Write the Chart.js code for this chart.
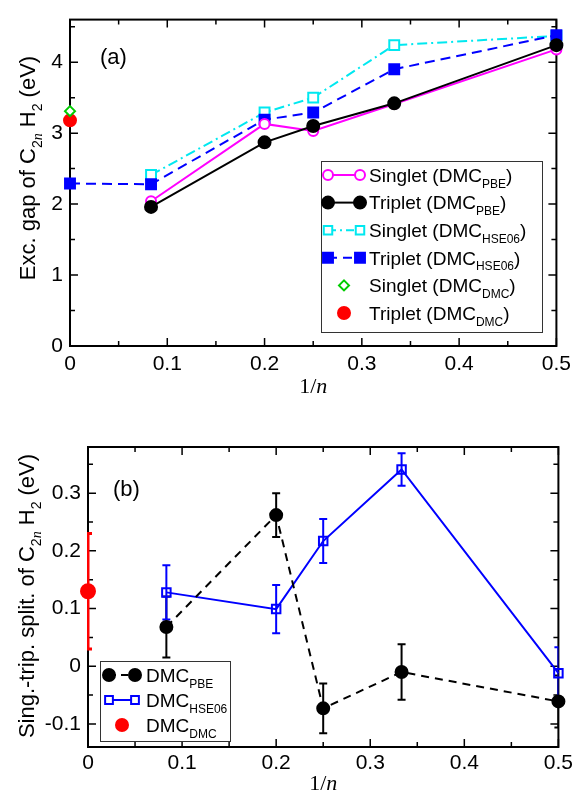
<!DOCTYPE html>
<html>
<head>
<meta charset="utf-8">
<script src="https://cdn.jsdelivr.net/npm/chart.js@4.4.0/dist/chart.umd.min.js"></script>
<style>
  body { margin: 0; background: #fff; }
  canvas { display: block; }
</style>
</head>
<body>
<canvas id="painelA" width="577" height="395"></canvas>
<canvas id="painelB" width="577" height="395"></canvas>
<script>
// ---- dados do painel (a): gap de excitação ----
const xPBE = [0.0833, 0.2, 0.25, 0.3333, 0.5];
const singletePBE = [2.04, 3.13, 3.03, 3.41, 4.18];
const tripletePBE = [1.96, 2.87, 3.10, 3.42, 4.24];
const singleteHSE = [2.41, 3.29, 3.50, 4.24, 4.37];
const xTripleteHSE = [0, 0.0833, 0.2, 0.25, 0.3333, 0.5];
const tripleteHSE = [2.29, 2.28, 3.19, 3.29, 3.90, 4.38];
const xDMC = [0];
const singleteDMC = [3.31];
const tripleteDMC = [3.18];

// ---- dados do painel (b): separação singlete-triplete ----
const xSep = [0.0833, 0.2, 0.25, 0.3333, 0.5];
const sepPBE = [0.068, 0.262, -0.073, -0.010, -0.061];
const erroPBE = [0.053, 0.038, 0.043, 0.048, 0.045];
const sepHSE = [0.128, 0.099, 0.217, 0.341, -0.012];
const erroHSE = [0.047, 0.042, 0.038, 0.028, 0.045];
const sepDMC = [0.13];
const erroDMC = [0.10];

const ticksX = ['0', '0.1', '0.2', '0.3', '0.4', '0.5'];

const FONTE = '"Liberation Sans", Arial, sans-serif';
const SERIFA = '"Liberation Serif", "Times New Roman", serif';

function pontos(xs, ys) {
  return xs.map((x, i) => ({ x: x, y: ys[i] }));
}

// texto com subscritos: partes = [[texto, tipo]], tipo = 'sub' | 'subi' | undefined
function textoRico(ctx, partes, x, y, tam, alinhar) {
  const sub = Math.round(tam * 0.65);
  const fontes = partes.map(p => {
    if (p[1] === 'subi') return 'italic ' + sub + 'px ' + SERIFA;
    if (p[1] === 'sub') return sub + 'px ' + FONTE;
    if (p[1] === 'serifi') return 'italic ' + tam + 'px ' + SERIFA;
    if (p[1] === 'serif') return tam + 'px ' + SERIFA;
    return tam + 'px ' + FONTE;
  });
  let total = 0;
  const larguras = partes.map((p, i) => {
    ctx.font = fontes[i];
    const w = ctx.measureText(p[0]).width;
    total += w;
    return w;
  });
  let cx = alinhar === 'center' ? x - total / 2 : x;
  const base = y + tam * 0.36;
  ctx.textAlign = 'left';
  ctx.textBaseline = 'alphabetic';
  partes.forEach((p, i) => {
    ctx.font = fontes[i];
    const dy = (p[1] === 'sub' || p[1] === 'subi') ? tam * 0.3 : 0;
    ctx.fillText(p[0], cx, base + dy);
    cx += larguras[i];
  });
}

function marcador(ctx, estilo, x, y, r, fundo, borda, lw) {
  ctx.save();
  ctx.beginPath();
  if (estilo === 'circle') {
    ctx.arc(x, y, r, 0, Math.PI * 2);
  } else if (estilo === 'rect') {
    const s = r * Math.SQRT1_2;
    ctx.rect(x - s, y - s, 2 * s, 2 * s);
  } else if (estilo === 'rectRot') {
    ctx.moveTo(x, y - r); ctx.lineTo(x + r, y); ctx.lineTo(x, y + r); ctx.lineTo(x - r, y);
    ctx.closePath();
  }
  ctx.fillStyle = fundo;
  ctx.fill();
  ctx.lineWidth = lw;
  ctx.strokeStyle = borda;
  ctx.setLineDash([]);
  ctx.stroke();
  ctx.restore();
}

// moldura, ticks para dentro, barras de erro, legenda e títulos
function pluginPainel(cfg) {
  return {
    id: 'painel',
    beforeDatasetsDraw(chart) {
      const { ctx, chartArea: a, scales: { x, y } } = chart;
      ctx.save();
      ctx.strokeStyle = '#000';
      ctx.lineWidth = 2;
      ctx.strokeRect(a.left, a.top, a.right - a.left, a.bottom - a.top);
      ctx.lineWidth = 1.5;
      const marcas = (escala, passo, maior, fn) => {
        const ini = Math.ceil(escala.min / passo - 1e-6);
        const fim = Math.floor(escala.max / passo + 1e-6);
        for (let i = ini; i <= fim; i++) {
          const v = i * passo;
          const ehMaior = Math.abs(v / maior - Math.round(v / maior)) < 1e-6;
          fn(escala.getPixelForValue(v), ehMaior ? 8 : 5);
        }
      };
      ctx.beginPath();
      marcas(x, cfg.xMenor, cfg.xMaior, (px, l) => {
        ctx.moveTo(px, a.bottom); ctx.lineTo(px, a.bottom - l);
        ctx.moveTo(px, a.top); ctx.lineTo(px, a.top + l);
      });
      marcas(y, cfg.yMenor, cfg.yMaior, (py, l) => {
        ctx.moveTo(a.left, py); ctx.lineTo(a.left + l, py);
        ctx.moveTo(a.right, py); ctx.lineTo(a.right - l, py);
      });
      ctx.stroke();

      // barras de erro, recortadas na área do gráfico na horizontal
      ctx.beginPath();
      ctx.rect(a.left - 1, 0, a.right - a.left + 1, chart.height);
      ctx.clip();
      chart.data.datasets.forEach(ds => {
        if (!ds.erros) return;
        ctx.strokeStyle = ds.corErro;
        ctx.lineWidth = ds.larguraErro || 2;
        ds.data.forEach((p, i) => {
          const px = x.getPixelForValue(p.x);
          const y1 = y.getPixelForValue(p.y + ds.erros[i]);
          const y2 = y.getPixelForValue(p.y - ds.erros[i]);
          ctx.beginPath();
          ctx.moveTo(px, y1); ctx.lineTo(px, y2);
          ctx.moveTo(px - 4, y1); ctx.lineTo(px + 4, y1);
          ctx.moveTo(px - 4, y2); ctx.lineTo(px + 4, y2);
          ctx.stroke();
        });
      });
      ctx.restore();
    },
    afterDraw(chart) {
      const { ctx, chartArea: a } = chart;
      ctx.save();
      ctx.fillStyle = '#000';
      // rótulo do painel
      ctx.font = '22px ' + FONTE;
      ctx.textAlign = 'left';
      ctx.textBaseline = 'middle';
      ctx.fillText(cfg.rotulo[0], cfg.rotulo[1], cfg.rotulo[2]);
      // título do eixo y
      ctx.save();
      ctx.translate(cfg.tituloY[1], cfg.tituloY[2]);
      ctx.rotate(-Math.PI / 2);
      textoRico(ctx, cfg.tituloY[0], 0, 0, 22, 'center');
      ctx.restore();
      // título do eixo x
      textoRico(ctx, [['1/', 'serif'], ['n', 'serifi']], (a.left + a.right) / 2, cfg.tituloXy, 22, 'center');
      // legenda
      const L = cfg.legenda;
      ctx.fillStyle = '#fff';
      ctx.fillRect(L.x, L.y, L.w, L.h);
      ctx.strokeStyle = '#333';
      ctx.lineWidth = 1;
      ctx.strokeRect(L.x + 0.5, L.y + 0.5, L.w, L.h);
      L.itens.forEach((it, i) => {
        const cy = L.y0 + i * L.passo;
        if (it.linha) {
          ctx.save();
          ctx.strokeStyle = it.cor;
          ctx.lineWidth = 2;
          ctx.setLineDash(it.tracos || []);
          ctx.beginPath();
          ctx.moveTo(L.m1, cy); ctx.lineTo(L.m2, cy);
          ctx.stroke();
          ctx.restore();
          marcador(ctx, it.estilo, L.m1, cy, it.r, it.fundo, it.cor, 2);
          marcador(ctx, it.estilo, L.m2, cy, it.r, it.fundo, it.cor, 2);
        } else {
          marcador(ctx, it.estilo, (L.m1 + L.m2) / 2, cy, it.r, it.fundo, it.cor, 2);
        }
        ctx.fillStyle = '#000';
        textoRico(ctx, it.texto, L.tx, cy, L.tam, 'left');
      });
      ctx.restore();
    }
  };
}

function escalas(cfg) {
  return {
    x: {
      type: 'linear', min: 0, max: 0.5,
      grid: { display: false, drawTicks: false }, border: { display: false },
      ticks: {
        stepSize: 0.1, includeBounds: false, autoSkip: false, maxRotation: 0,
        color: '#000', font: { size: 21, family: FONTE }, padding: cfg.padX,
        callback: (v) => ticksX[Math.round(v * 10)]
      },
      afterFit: (s) => { s.height = cfg.alturaX; }
    },
    y: {
      type: 'linear', min: cfg.yMin, max: cfg.yMax,
      grid: { display: false, drawTicks: false }, border: { display: false },
      ticks: {
        stepSize: cfg.yMaior, includeBounds: false, autoSkip: false,
        color: '#000', font: { size: 21, family: FONTE }, padding: 7,
        callback: (v) => String(Math.round(v * 10) / 10)
      },
      afterFit: (s) => { s.width = cfg.larguraY; }
    }
  };
}

function serie(dados, cor, estilo, r, fundo, extra) {
  return Object.assign({
    data: dados, showLine: true, borderColor: cor, borderWidth: 2,
    pointStyle: estilo, pointRadius: r, pointHoverRadius: r,
    pointBackgroundColor: fundo, pointBorderColor: cor, pointBorderWidth: 2,
    clip: false, tension: 0
  }, extra || {});
}

// ---- painel (a) ----
const cfgA = {
  xMaior: 0.1, xMenor: 0.05, yMaior: 1, yMenor: 0.5,
  yMin: 0, yMax: 4.6, padX: 6, alturaX: 49, larguraY: 70,
  rotulo: ['(a)', 100, 58],
  tituloY: [[['Exc. gap of C'], ['2', 'sub'], ['n', 'subi'], [' H'], ['2', 'sub'], [' (eV)']], 27, 168],
  tituloXy: 385,
  legenda: {
    x: 321, y: 161, w: 221, h: 171, y0: 175, passo: 27.6, m1: 328, m2: 360, tx: 369, tam: 19,
    itens: [
      { linha: true, cor: '#ff00ff', estilo: 'circle', r: 5, fundo: '#fff', texto: [['Singlet (DMC'], ['PBE', 'sub'], [')']] },
      { linha: true, cor: '#000', estilo: 'circle', r: 6, fundo: '#000', texto: [['Triplet (DMC'], ['PBE', 'sub'], [')']] },
      { linha: true, cor: '#00e8f0', estilo: 'rect', r: 6, fundo: '#fff', tracos: [8, 4, 2, 4], texto: [['Singlet (DMC'], ['HSE06', 'sub'], [')']] },
      { linha: true, cor: '#0000ff', estilo: 'rect', r: 7, fundo: '#0000ff', tracos: [9, 6], texto: [['Triplet (DMC'], ['HSE06', 'sub'], [')']] },
      { linha: false, cor: '#00cc00', estilo: 'rectRot', r: 5, fundo: '#fff', texto: [['Singlet (DMC'], ['DMC', 'sub'], [')']] },
      { linha: false, cor: '#ff0000', estilo: 'circle', r: 6, fundo: '#ff0000', texto: [['Triplet (DMC'], ['DMC', 'sub'], [')']] }
    ]
  }
};

new Chart(document.getElementById('painelA'), {
  type: 'scatter',
  data: {
    datasets: [
      serie(pontos(xDMC, singleteDMC), '#00cc00', 'rectRot', 5, '#fff', { showLine: false, order: 0 }),
      serie(pontos(xDMC, tripleteDMC), '#ff0000', 'circle', 6, '#ff0000', { showLine: false, order: 0 }),
      serie(pontos(xPBE, tripletePBE), '#000', 'circle', 6, '#000', { order: 1 }),
      serie(pontos(xPBE, singletePBE), '#ff00ff', 'circle', 5, '#fff', { order: 2 }),
      serie(pontos(xTripleteHSE, tripleteHSE), '#0000ff', 'rect', 7, '#0000ff', { borderDash: [10, 6], order: 3 }),
      serie(pontos(xPBE, singleteHSE), '#00e8f0', 'rect', 7, '#fff', { borderDash: [10, 4, 2, 4], order: 4 })
    ]
  },
  options: {
    responsive: false, animation: false, devicePixelRatio: 1,
    layout: { padding: { top: 15, right: 20, bottom: 0, left: 0 } },
    plugins: { legend: { display: false }, tooltip: { enabled: false } },
    scales: escalas(cfgA)
  },
  plugins: [pluginPainel(cfgA)]
});

// ---- painel (b) ----
const cfgB = {
  xMaior: 0.1, xMenor: 0.05, yMaior: 0.1, yMenor: 0.05,
  yMin: -0.14, yMax: 0.38, padX: 4, alturaX: 43, larguraY: 88,
  rotulo: ['(b)', 113, 95],
  tituloY: [[['Sing.-trip. split. of C'], ['2', 'sub'], ['n', 'subi'], [' H'], ['2', 'sub'], [' (eV)']], 26, 201],
  tituloXy: 387,
  legenda: {
    x: 100, y: 266, w: 130, h: 80, y0: 280, passo: 25, m1: 109, m2: 135, tx: 146, tam: 19,
    itens: [
      { linha: true, cor: '#000', estilo: 'circle', r: 6, fundo: '#000', tracos: [7, 5], texto: [['DMC'], ['PBE', 'sub']] },
      { linha: true, cor: '#0000ff', estilo: 'rect', r: 5.5, fundo: '#fff', texto: [['DMC'], ['HSE06', 'sub']] },
      { linha: false, cor: '#ff0000', estilo: 'circle', r: 6, fundo: '#ff0000', texto: [['DMC'], ['DMC', 'sub']] }
    ]
  }
};

new Chart(document.getElementById('painelB'), {
  type: 'scatter',
  data: {
    datasets: [
      serie(pontos(xDMC, sepDMC), '#ff0000', 'circle', 7, '#ff0000', { showLine: false, order: 0, erros: erroDMC, corErro: '#ff0000', larguraErro: 3 }),
      serie(pontos(xSep, sepPBE), '#000', 'circle', 6, '#000', { borderDash: [8, 6], order: 1, erros: erroPBE, corErro: '#000' }),
      serie(pontos(xSep, sepHSE), '#0000ff', 'rect', 6, 'rgba(255,255,255,0)', { order: 2, erros: erroHSE, corErro: '#0000ff' })
    ]
  },
  options: {
    responsive: false, animation: false, devicePixelRatio: 1,
    layout: { padding: { top: 52, right: 18, bottom: 0, left: 0 } },
    plugins: { legend: { display: false }, tooltip: { enabled: false } },
    scales: escalas(cfgB)
  },
  plugins: [pluginPainel(cfgB)]
});
</script>
</body>
</html>
